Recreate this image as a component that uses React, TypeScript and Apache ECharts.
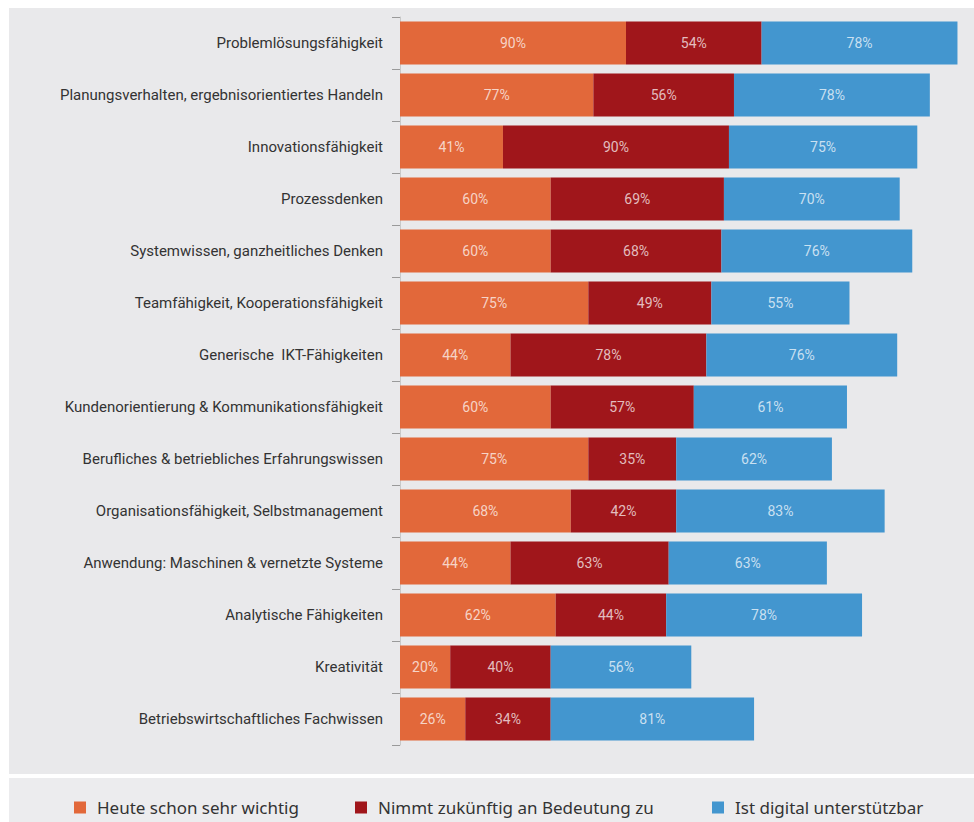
import React, { useEffect, useRef } from "react";
import * as echarts from "echarts";

const categories = [
  "Problemlösungsfähigkeit",
  "Planungsverhalten, ergebnisorientiertes Handeln",
  "Innovationsfähigkeit",
  "Prozessdenken",
  "Systemwissen, ganzheitliches Denken",
  "Teamfähigkeit, Kooperationsfähigkeit",
  "Generische  IKT-Fähigkeiten",
  "Kundenorientierung & Kommunikationsfähigkeit",
  "Berufliches & betriebliches Erfahrungswissen",
  "Organisationsfähigkeit, Selbstmanagement",
  "Anwendung: Maschinen & vernetzte Systeme",
  "Analytische Fähigkeiten",
  "Kreativität",
  "Betriebswirtschaftliches Fachwissen",
];

const heute = [90, 77, 41, 60, 60, 75, 44, 60, 75, 68, 44, 62, 20, 26];
const zukunft = [54, 56, 90, 69, 68, 49, 78, 57, 35, 42, 63, 44, 40, 34];
const digital = [78, 78, 75, 70, 76, 55, 76, 61, 62, 83, 63, 78, 56, 81];

const seriesNames = [
  "Heute schon sehr wichtig",
  "Nimmt zukünftig an Bedeutung zu",
  "Ist digital unterstützbar",
];

const colors = ["#e2683a", "#a0161b", "#4396cf"];

const labelFont = "Roboto, sans-serif";

export default function App() {
  const ref = useRef<HTMLDivElement>(null);
  useEffect(() => {
    document.body.style.margin = "0";
    const chart = echarts.init(ref.current!, undefined, { renderer: "svg" });
    const values = [heute, zukunft, digital];
    const legendLefts = [69, 350, 707];
    chart.setOption({
      animation: false,
      backgroundColor: "#ffffff",
      graphic: [
        { type: "rect", z: -10, shape: { x: 9, y: 8, width: 965, height: 766 }, style: { fill: "#e9e9eb" } },
        { type: "rect", z: -10, shape: { x: 9, y: 778, width: 965, height: 44 }, style: { fill: "#ececee" } },
      ],
      grid: { left: 400, top: 17, height: 728, width: 565 },
      xAxis: { type: "value", min: 0, max: 225, show: false },
      yAxis: {
        type: "category",
        data: categories,
        inverse: true,
        axisLine: { show: true, lineStyle: { color: "#c8c8c8", width: 1 } },
        axisTick: { show: true, length: 8, lineStyle: { color: "#9a9a9a" } },
        axisLabel: { color: "#333333", fontSize: 15, fontFamily: labelFont, margin: 17 },
      },
      legend: legendLefts.map((l, i) => ({
        data: [seriesNames[i]],
        left: l,
        top: 794,
        icon: "rect",
        itemWidth: 12,
        itemHeight: 12,
        textStyle: {
          color: "#333333",
          fontSize: 17,
          fontFamily: "'Noto Sans', sans-serif",
          padding: [0, 0, 0, 6],
        },
      })),
      series: values.map((v, i) => ({
        name: seriesNames[i],
        type: "bar",
        stack: "total",
        data: v,
        barWidth: 43,
        itemStyle: { color: colors[i] },
        label: {
          show: true,
          position: "inside",
          formatter: "{c}%",
          color: "rgba(255,255,255,0.72)",
          fontSize: 14,
          fontFamily: labelFont,
        },
      })),
    });
    return () => chart.dispose();
  }, []);
  return <div ref={ref} style={{ width: 974, height: 822 }} />;
}
